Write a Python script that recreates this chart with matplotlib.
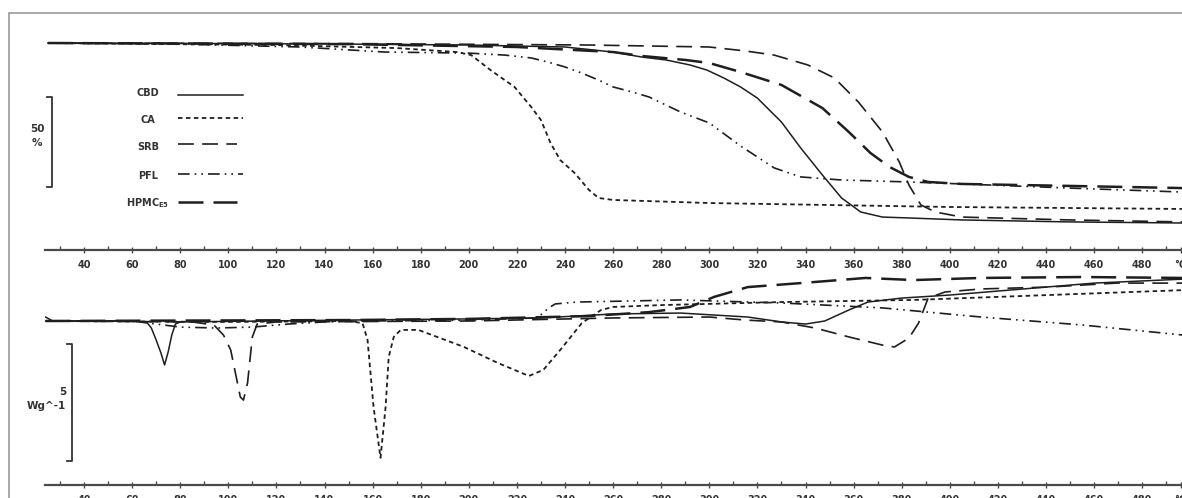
""" TGA (top) and DSC (bottom) thermograms of CBD and the excipients.
"""

import matplotlib
matplotlib.use("Agg")
from matplotlib import pyplot as plt
from matplotlib.lines import Line2D
from matplotlib.patches import Rectangle
from matplotlib.ticker import MultipleLocator

# ------------------------------------------------------------------------------
# Data.
# ------------------------------------------------------------------------------

series_names = ["CBD", "CA", "SRB", "PFL", "HPMC"]
legend_labels = ["CBD", "CA", "SRB", "PFL", r"HPMC$_{\mathbf{E5}}$"]

# TGA: mass (%) against temperature (°C).
cbd_tga_t = [25, 100, 150, 200, 240, 260, 272, 282, 292, 299, 306, 313, 320, 330, 338, 347, 355, 363, 372, 383,
             405, 450, 497]
cbd_tga_m = [100, 99.7, 99.4, 98.9, 97.8, 95.0, 92.2, 90.6, 87.8, 85.0, 80.6, 75.6, 69.4, 56.1, 41.7, 26.7, 13.9,
             6.1, 3.3, 2.8, 1.7, 0.6, 0.0]

ca_tga_t = [25, 120, 170, 195, 201, 209, 219, 226, 230, 234, 238, 244, 250, 254, 260, 300, 350, 400, 497]
ca_tga_m = [100, 98.9, 97.2, 95.0, 93.3, 85.0, 75.6, 64.4, 57.2, 44.4, 35.0, 27.8, 18.3, 13.9, 12.8, 11.1, 10.0, 8.9, 7.8]

srb_tga_t = [25, 150, 250, 300, 315, 327, 341, 352, 362, 372, 379, 383, 388, 394, 405, 450, 497]
srb_tga_m = [100, 99.7, 98.9, 97.8, 95.6, 93.3, 87.8, 80.6, 67.2, 50.6, 33.9, 21.1, 10.0, 6.1, 3.3, 1.7, 0.6]

pfl_tga_t = [25, 80, 130, 165, 200, 215, 226, 233, 240, 247, 254, 260, 268, 275, 288, 300, 313, 327, 338, 355, 383,
             405, 450, 497]
pfl_tga_m = [100, 99.4, 97.8, 95.0, 94.4, 93.3, 91.7, 89.4, 86.7, 83.3, 79.4, 75.6, 72.8, 70.0, 61.7, 55.6, 42.8,
             30.6, 25.6, 23.9, 22.8, 21.7, 19.4, 17.2]

hpmc_tga_t = [25, 150, 220, 260, 272, 290, 300, 313, 330, 347, 358, 367, 375, 383, 391, 405, 450, 497]
hpmc_tga_m = [100, 99.4, 97.8, 95.0, 92.8, 90.6, 88.9, 83.9, 76.7, 63.9, 50.6, 38.9, 31.1, 25.6, 22.8, 21.7, 20.6, 19.4]

# DSC: heat flow (W/g, relative to the starting baseline) against temperature (°C).
cbd_dsc_t = [24, 27, 60, 66, 68, 70, 72, 73.5, 75, 76.5, 78, 80, 150, 200, 230, 260, 288, 316, 330, 340, 348,
             358, 366, 380, 400, 420, 440, 460, 497]
cbd_dsc_q = [0.17, 0.0, 0.0, -0.04, -0.30, -0.81, -1.37, -1.88, -1.32, -0.60, -0.13, -0.04, 0.04, 0.09, 0.13, 0.30,
             0.34, 0.17, -0.04, -0.13, 0.0, 0.47, 0.81, 0.98, 1.11, 1.28, 1.45, 1.62, 1.79]

ca_dsc_t = [24, 100, 150, 155.8, 157.9, 160.4, 163.3, 165.4, 166.7, 168.8, 171.7, 179, 198, 212, 225, 231, 238,
            247, 255, 260, 280, 330, 385, 441, 497]
ca_dsc_q = [0.0, -0.04, 0.0, -0.09, -0.81, -3.68, -5.85, -3.68, -1.54, -0.68, -0.38, -0.38, -1.11, -1.79, -2.35,
            -2.09, -1.24, -0.09, 0.47, 0.60, 0.68, 0.81, 0.90, 1.11, 1.32]

srb_dsc_t = [24, 85, 94, 98, 101, 105, 106.3, 108, 110, 112, 120, 200, 260, 300, 315, 330, 344, 358, 372, 377, 383,
             387, 391, 398, 413, 441, 469, 497]
srb_dsc_q = [0.0, -0.04, -0.17, -0.60, -1.24, -3.25, -3.38, -2.65, -0.68, -0.13, -0.04, 0.0, 0.13, 0.17, 0.04,
             -0.04, -0.30, -0.68, -1.03, -1.11, -0.73, -0.09, 0.98, 1.24, 1.37, 1.45, 1.62, 1.62]

pfl_dsc_t = [24, 60, 70, 80, 95, 110, 125, 140, 160, 200, 228, 231, 233, 236, 245, 288, 330, 372, 413, 455, 497]
pfl_dsc_q = [0.0, 0.0, -0.13, -0.26, -0.30, -0.26, -0.13, -0.04, 0.0, 0.04, 0.13, 0.34, 0.55, 0.73, 0.81, 0.90,
             0.77, 0.56, 0.17, -0.17, -0.60]

hpmc_dsc_t = [24, 150, 200, 250, 275, 292, 302, 309, 316, 338, 365, 385, 413, 455, 497]
hpmc_dsc_q = [0.0, 0.04, 0.09, 0.21, 0.38, 0.60, 1.03, 1.24, 1.45, 1.62, 1.84, 1.75, 1.84, 1.88, 1.84]

# Axis ticks; the unit takes the place of the last value.
tick_values = list(range(40, 500, 20)) + [496]
tick_labels = [str(v) for v in range(40, 500, 20)] + ["°C"]

# Scale bars.
mass_bar = 50
heat_bar = 5

# ------------------------------------------------------------------------------
# Styles.
# ------------------------------------------------------------------------------

ink = "#1e1e1e"
grey = "#333333"
styles = {
    "CBD": dict(ls="-", lw=1.1),
    "CA": dict(ls=(0, (2.5, 1.9)), lw=1.3),
    "SRB": dict(ls=(0, (9.5, 5)), lw=1.2),
    "PFL": dict(ls=(0, (7, 3, 1, 3, 1, 3)), lw=1.2),
    "HPMC": dict(ls=(0, (10, 4)), lw=1.8),
}

W, H = 1182, 498
px_per_deg = 2.405


def fx(px):
    return px / W


def fy(py):
    return 1 - py / H


def deg(px):
    return 40 + (px - 84) / px_per_deg


# ------------------------------------------------------------------------------
# Figure.
# ------------------------------------------------------------------------------

fig = plt.figure(figsize=(W / 100, H / 100), dpi=100)
fig.patches.append(Rectangle((fx(9), -0.2), 1.2, fy(13) + 0.2, transform=fig.transFigure,
                             fill=False, edgecolor="#9a9a9a", lw=1.2))

ax_tga = fig.add_axes([fx(45), fy(250), fx(1200) - fx(45), fy(20) - fy(250)])
ax_dsc = fig.add_axes([fx(45), fy(485), fx(1200) - fx(45), fy(270) - fy(485)])

tga = {"CBD": (cbd_tga_t, cbd_tga_m), "CA": (ca_tga_t, ca_tga_m), "SRB": (srb_tga_t, srb_tga_m),
       "PFL": (pfl_tga_t, pfl_tga_m), "HPMC": (hpmc_tga_t, hpmc_tga_m)}
dsc = {"CBD": (cbd_dsc_t, cbd_dsc_q), "CA": (ca_dsc_t, ca_dsc_q), "SRB": (srb_dsc_t, srb_dsc_q),
       "PFL": (pfl_dsc_t, pfl_dsc_q), "HPMC": (hpmc_dsc_t, hpmc_dsc_q)}

for name in series_names:
    ax_tga.plot(*tga[name], color=ink, solid_joinstyle="round", **styles[name])
    ax_dsc.plot(*dsc[name], color=ink, solid_joinstyle="round", **styles[name])

ax_tga.set_xlim(deg(45), deg(1200))
ax_tga.set_ylim(-15.0, 112.8)
ax_dsc.set_xlim(deg(45), deg(1200))
ax_dsc.set_ylim(-7.01, 2.18)

for ax in (ax_tga, ax_dsc):
    ax.patch.set_alpha(0)
    for side in ("left", "right", "top"):
        ax.spines[side].set_visible(False)
    ax.spines["bottom"].set_linewidth(1.6)
    ax.spines["bottom"].set_color("#4a4a4a")
    ax.set_yticks([])
    ax.set_xticks(tick_values)
    ax.set_xticklabels(tick_labels)
    ax.xaxis.set_minor_locator(MultipleLocator(10))
    ax.tick_params(axis="x", which="major", direction="inout", length=5, width=1.0,
                   color="#4a4a4a", pad=5, labelsize=7, labelcolor=grey)
    ax.tick_params(axis="x", which="minor", direction="in", length=3, width=1.0, color="#4a4a4a")
    for lbl in ax.get_xticklabels():
        lbl.set_fontweight("bold")

# Scale bars.
ax_tga.plot([deg(47), deg(52), deg(52), deg(47)], [70, 70, 70 - mass_bar, 70 - mass_bar],
            color=grey, lw=1.3, clip_on=False)
fig.text(fx(37), fy(129), str(mass_bar), ha="center", va="center", fontsize=7.5, fontweight="bold", color=grey)
fig.text(fx(37), fy(143), "%", ha="center", va="center", fontsize=7.5, fontweight="bold", color=grey)

ax_dsc.plot([deg(67), deg(72), deg(72), deg(67)], [-1.0, -1.0, -1.0 - heat_bar, -1.0 - heat_bar],
            color=grey, lw=1.3, clip_on=False)
fig.text(fx(66), fy(392), str(heat_bar), ha="right", va="center", fontsize=7.5, fontweight="bold", color=grey)
fig.text(fx(66), fy(406), "Wg^-1", ha="right", va="center", fontsize=7.5, fontweight="bold", color=grey)

# Legend, drawn as in the original: name on the left, line sample on the right.
legend_text_y = [93, 120, 147, 176, 203]
legend_line_y = [95, 118, 144, 174, 202]
legend_line_end = [243, 243, 237, 243, 237]
for i, name in enumerate(series_names):
    fig.text(fx(148), fy(legend_text_y[i]), legend_labels[i], ha="center", va="center",
             fontsize=7, fontweight="bold", color=grey)
    fig.add_artist(Line2D([fx(178), fx(legend_line_end[i])], [fy(legend_line_y[i])] * 2,
                          transform=fig.transFigure, color=ink, **styles[name]))

plt.savefig("out.png", dpi=100)
